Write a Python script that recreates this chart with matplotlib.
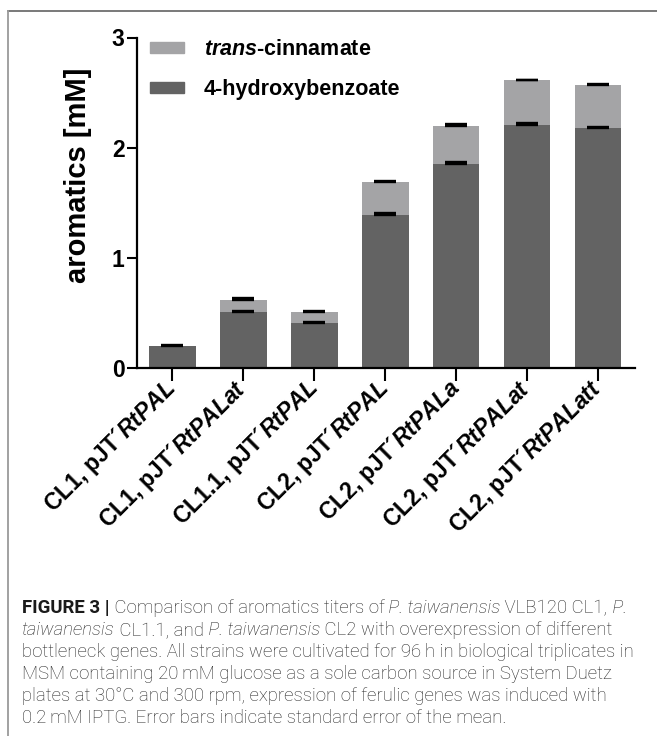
import matplotlib
matplotlib.use("Agg")
import matplotlib.pyplot as plt
from matplotlib.lines import Line2D
from matplotlib.patches import Patch

# strain / plasmid names for the x axis
strains = ["CL1", "CL1", "CL1.1", "CL2", "CL2", "CL2", "CL2"]
plasmids = ["RtPAL", "RtPALat", "RtPAL", "RtPAL", "RtPALa", "RtPALat", "RtPALatt"]

# titers in mM (stacked) and standard errors
hba = [0.20, 0.51, 0.41, 1.39, 1.85, 2.21, 2.18]
hba_err = [0.010, 0.010, 0.010, 0.015, 0.018, 0.012, 0.006]
cinnamate = [0.00, 0.11, 0.10, 0.30, 0.35, 0.40, 0.39]
cinnamate_err = [0.000, 0.014, 0.008, 0.010, 0.012, 0.006, 0.005]

yticks = [0, 1, 2, 3]

dark = "#636363"
light = "#a4a4a6"

plt.rcParams["font.family"] = ["Liberation Sans", "DejaVu Sans"]
plt.rcParams["mathtext.fontset"] = "custom"
plt.rcParams["mathtext.rm"] = "Liberation Sans:bold"
plt.rcParams["mathtext.it"] = "Liberation Sans:italic:bold"
plt.rcParams["mathtext.bf"] = "Liberation Sans:bold"

W, H = 657, 736
fig = plt.figure(figsize=(W / 100, H / 100), dpi=100)
ax = fig.add_axes([137 / W, 1 - 368 / H, 498 / W, 330.5 / H])

x = list(range(len(hba)))
totals = [a + b for a, b in zip(hba, cinnamate)]
ax.bar(x, hba, width=0.656, color=dark, zorder=2)
ax.bar(x, cinnamate, bottom=hba, width=0.656, color=light, zorder=2)

# upward-only error bars
ax.errorbar(x, hba, yerr=[[0] * len(x), hba_err], fmt="none", ecolor="black",
            elinewidth=1.3, capsize=8, capthick=1.7, zorder=3)
xc = [i for i in x if cinnamate[i] > 0]
ax.errorbar(xc, [totals[i] for i in xc],
            yerr=[[0] * len(xc), [cinnamate_err[i] for i in xc]], fmt="none",
            ecolor="black", elinewidth=1.3, capsize=8, capthick=1.7, zorder=3)

ax.set_xlim(-0.5, 6.52)
ax.set_ylim(0, 3)
ax.set_yticks(yticks)
ax.set_yticklabels([str(v) for v in yticks], fontsize=16.5, fontweight="bold")
ax.set_xticks(x)
labels = [f"{s}, pJT´$\\mathit{{{p}}}$" for s, p in zip(strains, plasmids)]
ax.set_xticklabels(labels, rotation=45, ha="right", va="center",
                   rotation_mode="anchor", fontsize=16.5, fontweight="bold")
ax.tick_params(axis="y", length=7, width=1.5, pad=2)
ax.tick_params(axis="x", length=9, width=1.5, pad=3)
for side in ("top", "right"):
    ax.spines[side].set_visible(False)
for side in ("left", "bottom"):
    ax.spines[side].set_linewidth(1.6)

ax.set_ylabel("aromatics [mM]", fontsize=21, fontweight="bold")
ax.yaxis.set_label_coords(-0.118, 0.584)
ax.yaxis.label.set_va("center")

handles = [Patch(color=light), Patch(color=dark)]
ax.legend(handles, ["$\\mathit{trans}$-cinnamate", "4-hydroxybenzoate"],
          loc="upper left", bbox_to_anchor=(150 / W, 1 - 39 / H),
          bbox_transform=fig.transFigure, frameon=False, borderpad=0,
          borderaxespad=0, handlelength=1.6, handleheight=0.45,
          handletextpad=0.9, labelspacing=0.9,
          prop={"size": 15.5, "weight": "bold"})

# frame lines along the top and left edge
fig.add_artist(Line2D([7.5 / W, 1], [1 - 10.5 / H, 1 - 10.5 / H],
                      color="#6e6e6e", lw=1.3))
fig.add_artist(Line2D([7.5 / W, 7.5 / W], [0, 1 - 10.5 / H],
                      color="#9a9a9a", lw=1.3))

# caption, built from styled pieces laid end to end
cap = fig.add_axes([0, 0, 1, 1], zorder=-1)
cap.axis("off")
caption = [
    [("FIGURE 3 |", "bold", "normal"),
     (" Comparison of aromatics titers of", "light", "normal"),
     (" P. taiwanensis", "light", "italic"),
     (" VLB120 CL1,", "light", "normal"),
     (" P.", "light", "italic")],
    [("taiwanensis", "light", "italic"),
     (" CL1.1, and", "light", "normal"),
     (" P. taiwanensis", "light", "italic"),
     (" CL2 with overexpression of different", "light", "normal")],
    [("bottleneck genes. All strains were cultivated for 96\u2009h in biological triplicates in",
      "light", "normal")],
    [("MSM containing 20\u2009mM glucose as a sole carbon source in System Duetz",
      "light", "normal")],
    [("plates at 30°C and 300 rpm, expression of ferulic genes was induced with",
      "light", "normal")],
    [("0.2\u2009mM IPTG. Error bars indicate standard error of the mean.",
      "light", "normal")],
]
cap_font = ["Roboto", "DejaVu Sans"]
for n, line in enumerate(caption):
    ybot = 1 - (617 + 22 * n) / H
    prev = None
    for text, weight, style in line:
        color = "#1a1a1a" if weight == "bold" else "#262626"
        kw = dict(fontsize=13.4, fontweight=weight, fontstyle=style,
                  color=color, family=cap_font, ha="left", va="bottom")
        if prev is None:
            prev = cap.text(22 / W, ybot, text, transform=fig.transFigure, **kw)
        else:
            prev = cap.annotate(text, xy=(1, 0), xycoords=prev, **kw)

fig.savefig("out.png", dpi=100)
